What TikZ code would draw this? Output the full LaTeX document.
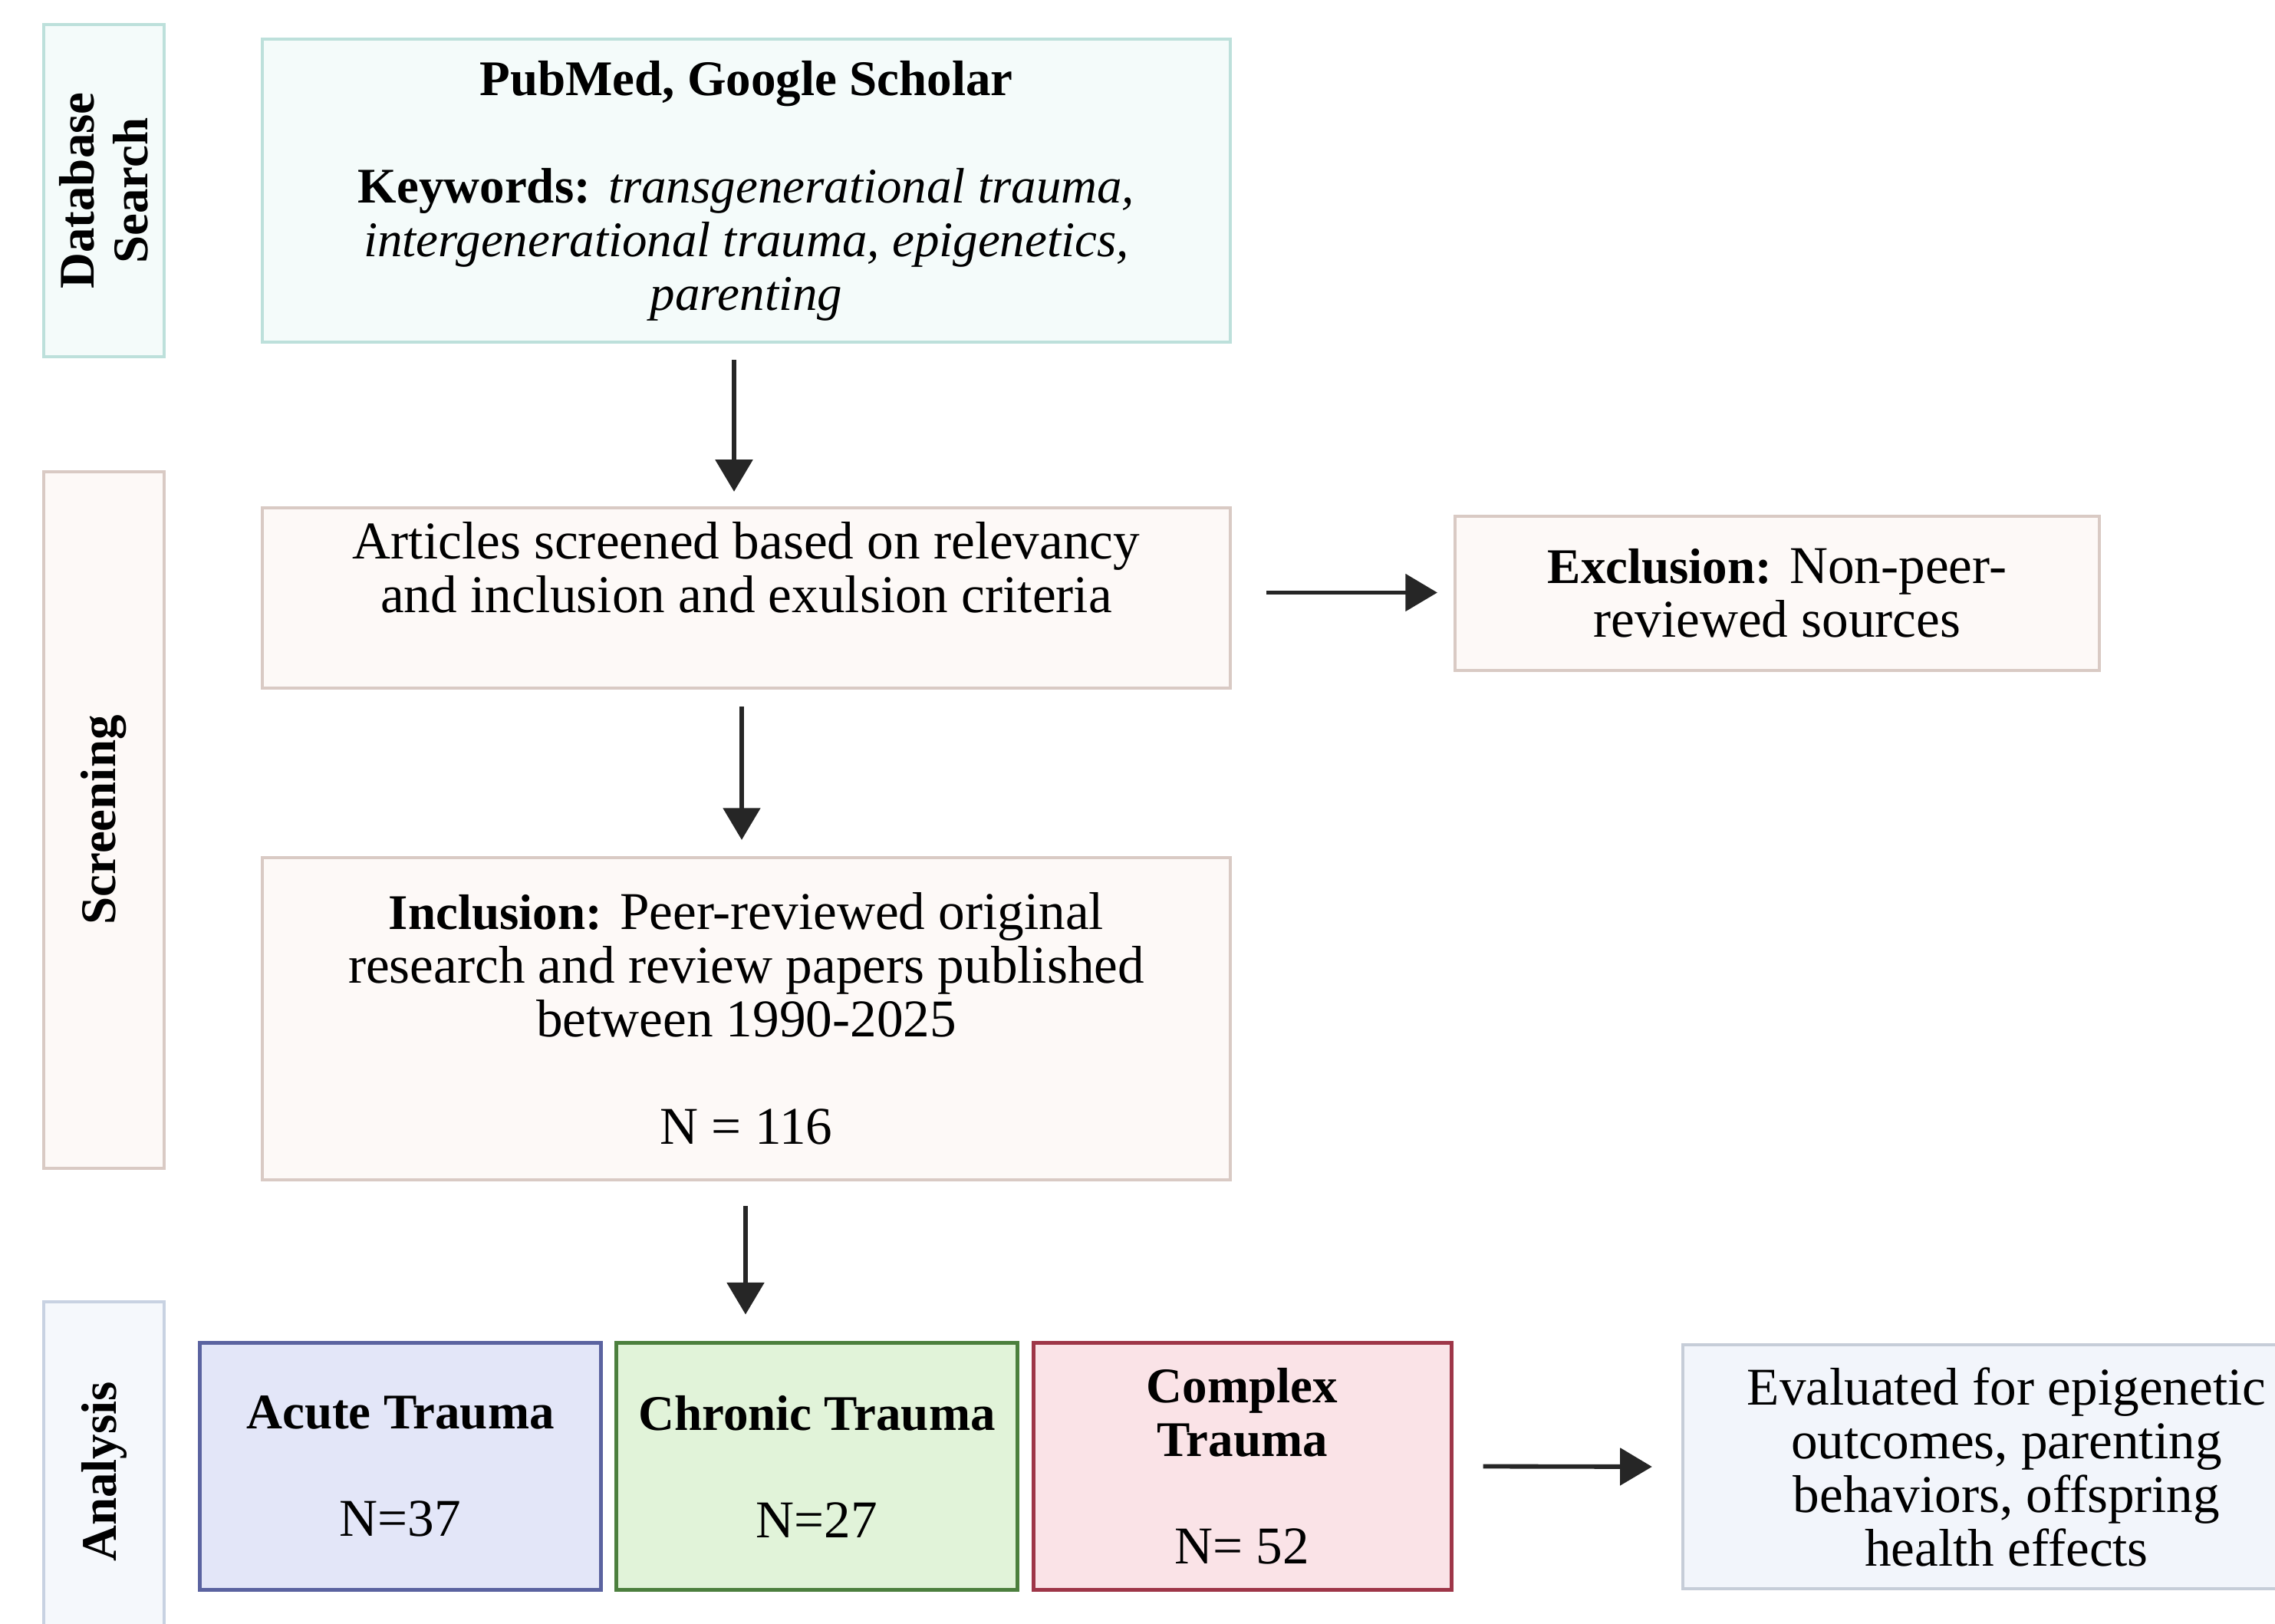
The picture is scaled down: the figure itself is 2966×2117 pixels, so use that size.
\documentclass[tikz,border=0pt]{standalone}
\usepackage{fontspec}
\setmainfont{Liberation Serif}[UprightFeatures={Scale=1.065}]
\usetikzlibrary{arrows.meta,calc}

\definecolor{dbdraw}{HTML}{BDE0DB}
\definecolor{dbfill}{HTML}{F4FBFA}
\definecolor{scrdraw}{HTML}{D9CAC4}
\definecolor{scrfill}{HTML}{FDF9F7}
\definecolor{anadraw}{HTML}{C8D2E2}
\definecolor{anafill}{HTML}{F5F8FC}
\definecolor{acudraw}{HTML}{5B63A0}
\definecolor{acufill}{HTML}{E3E6F8}
\definecolor{chrdraw}{HTML}{4C7F3E}
\definecolor{chrfill}{HTML}{E1F3D9}
\definecolor{cpxdraw}{HTML}{9E3648}
\definecolor{cpxfill}{HTML}{FAE3E7}
\definecolor{evadraw}{HTML}{C6CDD8}
\definecolor{evafill}{HTML}{F2F5FB}
\definecolor{arrowgray}{HTML}{262626}

\begin{document}
\begin{tikzpicture}[x=0.24pt,y=-0.24pt,
  flowbox/.style={draw,line width=1pt,align=center,inner sep=0pt,
    font=\fontsize{15.6}{16.8}\selectfont},
  sidebox/.style={flowbox,rotate=90,minimum height=37.7pt,
    font=\fontsize{15.6}{16.8}\selectfont\bfseries},
  flowarrow/.style={-{Triangle[length=10pt,width=11.5pt]},line width=1.4pt,draw=arrowgray}]
  \useasboundingbox (0,0) rectangle (2966,2117);
  \clip (0,0) rectangle (2966,2117);

  % stage labels on the left
  \node[sidebox,draw=dbdraw,fill=dbfill,minimum width=103.9pt] (dbside) at (135.5,248.5) {Database\\Search};
  \node[sidebox,draw=scrdraw,fill=scrfill,minimum width=217.9pt] (scrside) at (135.5,1069) {Screening};
  \node[sidebox,draw=anadraw,fill=anafill,minimum width=106.3pt] (anaside) at (135.5,1918.5) {Analysis};

  % main column
  \node[flowbox,draw=dbdraw,fill=dbfill,minimum width=302.9pt,minimum height=94.8pt] (search) at (973,248.5)
    {\textbf{PubMed, Google Scholar}\\[16.8pt]
     \textbf{Keywords:} \textit{transgenerational trauma,}\\
     \textit{intergenerational trauma, epigenetics,}\\
     \textit{parenting}};
  \node[flowbox,draw=scrdraw,fill=scrfill,minimum width=302.9pt,minimum height=56.4pt,text depth=19pt] (screen) at (973,779.5)
    {Articles screened based on relevancy\\and inclusion and exulsion criteria};
  \node[flowbox,draw=scrdraw,fill=scrfill,minimum width=201.6pt,minimum height=48.2pt] (excl) at (2317,773.5)
    {\textbf{Exclusion:} Non-peer-\\reviewed sources};
  \node[flowbox,draw=scrdraw,fill=scrfill,minimum width=302.9pt,minimum height=100.8pt] (incl) at (973,1328)
    {\textbf{Inclusion:} Peer-reviewed original\\research and review papers published\\between 1990-2025\\[16.8pt]N = 116};

  % trauma groups
  \node[flowbox,line width=1.2pt,draw=acudraw,fill=acufill,minimum width=125.3pt,minimum height=77.5pt] (acute) at (522,1911.5)
    {\textbf{Acute Trauma}\\[16.8pt]N=37};
  \node[flowbox,line width=1.2pt,draw=chrdraw,fill=chrfill,minimum width=125.3pt,minimum height=77.5pt] (chronic) at (1065,1911.5)
    {\textbf{Chronic Trauma}\\[16.8pt]N=27};
  \node[flowbox,line width=1.2pt,draw=cpxdraw,fill=cpxfill,minimum width=130.8pt,minimum height=77.5pt] (complex) at (1619.5,1911.5)
    {\textbf{Complex}\\\textbf{Trauma}\\[16.8pt]N= 52};
  \node[flowbox,draw=evadraw,fill=evafill,minimum width=202.6pt,minimum height=76.3pt] (evaluated) at (2616,1912)
    {Evaluated for epigenetic\\outcomes, parenting\\behaviors, offspring\\health effects};

  % connectors
  \draw[flowarrow] ($(search.south)+(-16,21)$) -- ($(screen.north)+(-16,-19)$);
  \draw[flowarrow] ($(screen.south)+(-6,22)$) -- ($(incl.north)+(-6,-21)$);
  \draw[flowarrow] ($(incl.south)+(-1,32)$) -- ($(acute.north -| incl.south)+(-1,-34)$);
  \draw[flowarrow] ($(screen.east |- excl.west)+(45,-1)$) -- ($(excl.west)+(-21,-1)$);
  \draw[flowarrow] ($(complex.east)+(39,0)$) -- ($(evaluated.west)+(-38,0)$);
\end{tikzpicture}
\end{document}
